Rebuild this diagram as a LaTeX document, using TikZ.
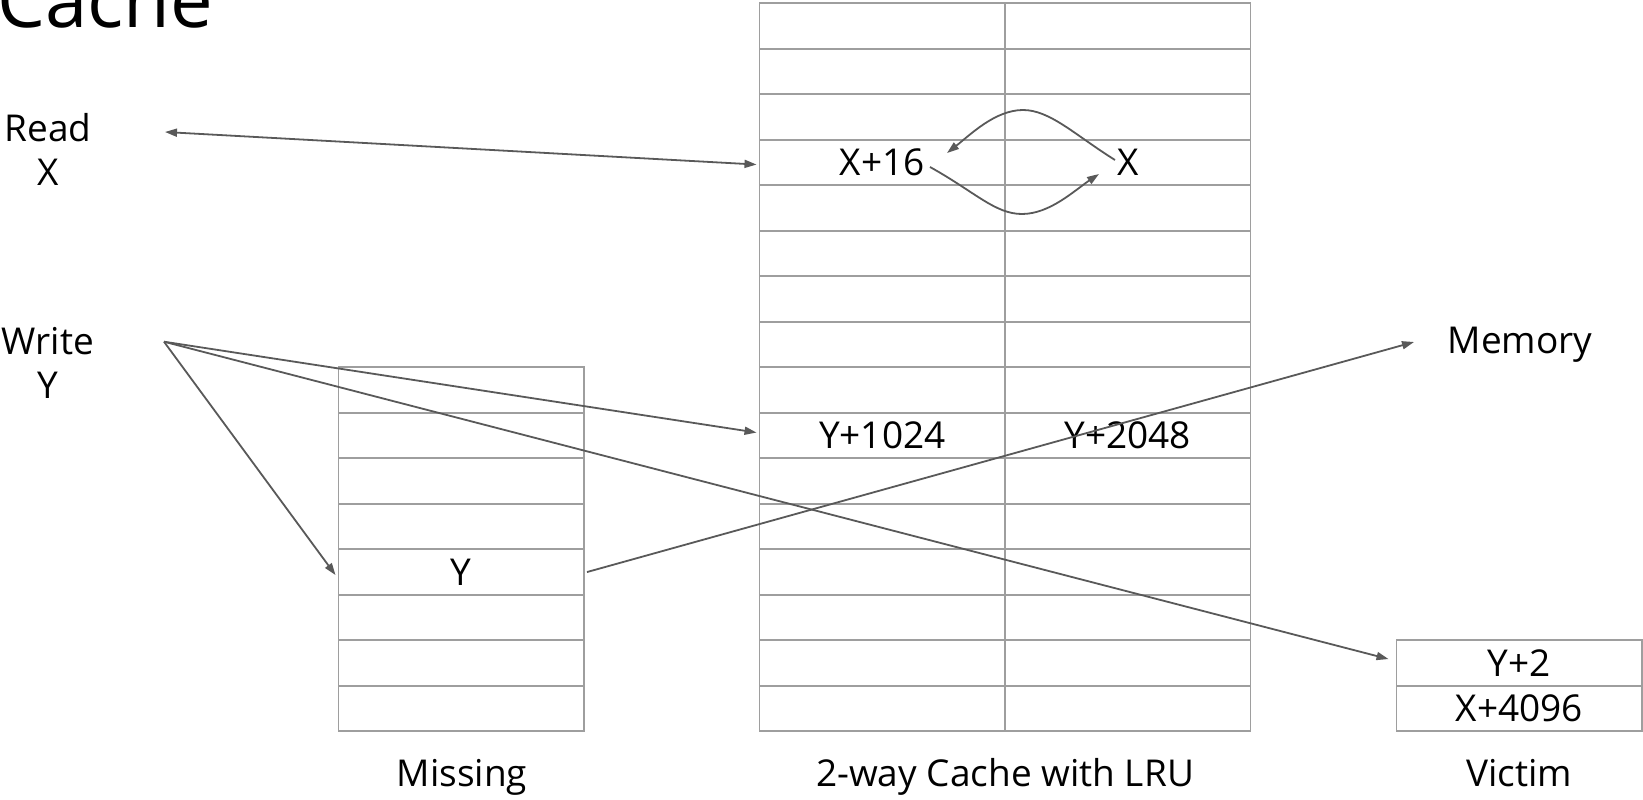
\documentclass[tikz,border=0pt]{standalone}
\usepackage{fontspec}
\setmainfont{Open Sans}
\usetikzlibrary{arrows.meta}
\definecolor{gridc}{RGB}{158,158,158}
\definecolor{linec}{RGB}{89,89,89}
\begin{document}
\begin{tikzpicture}[x=1pt,y=-1pt,
  cell/.style={draw=gridc, line width=1.8pt, minimum width=245.5pt, minimum height=45.5pt, inner sep=0pt, outer sep=0pt, anchor=north west},
  lbl/.style={font=\fontsize{37}{44}\selectfont, inner sep=0pt, text=black, align=center},
  conn/.style={draw=linec, line width=1.8pt, -{Triangle[length=12pt,width=8pt]}},
]
\useasboundingbox (0,0) rectangle (1643,800);

% title
\node[font=\fontsize{76}{84}\selectfont, inner sep=0pt, anchor=base west] (title) at (-3,28) {Cache};

% cache grid
\foreach \r in {0,...,15} {
  \foreach \c in {0,1} {
    \node[cell] (c-\r-\c) at ({759.5+245.5*\c},{3.3+45.5*\r}) {};
  }
}
% missing
\foreach \r in {0,...,7} {
  \node[cell] (m-\r) at (338.5,{3.3+45.5*(\r+8)}) {};
}
% victim
\foreach \r in {0,1} {
  \node[cell] (v-\r) at (1396.5,{3.3+45.5*(\r+14)}) {};
}

% cell texts
\node[lbl] (x16) at (c-3-0.center) {X+16};
\node[lbl] (xn) at (c-3-1.center) {X};
\node[lbl] (y1024) at (c-9-0.center) {Y+1024};
\node[lbl] (y2048) at (c-9-1.center) {Y+2048};
\node[lbl] (ym) at (m-4.center) {Y};
\node[lbl] (y2) at (v-0.center) {Y+2};
\node[lbl] (x4096) at (v-1.center) {X+4096};

% side labels (base anchor = last line)
\node[lbl, anchor=base] (read) at (48,185) {Read\\X};
\node[lbl, anchor=base] (write) at (48,398) {Write\\Y};
\node[lbl, anchor=base] (mem) at (1520,353) {Memory};

% bottom labels
\node[lbl, anchor=base] (lmiss) at (462,786.5) {Missing};
\node[lbl, anchor=base] (lcache) at (1005,786.5) {2-way Cache with LRU};
\node[lbl, anchor=base] (lvict) at (1519,786.5) {Victim};

% connector endpoints
\coordinate (rsrc) at (165,132);
\coordinate (wsrc) at (164,341.7);
\coordinate (memin) at (1414,342);
\coordinate (ua) at (1115,160);
\coordinate (ub) at (947,153);
\coordinate (la) at (930,167);
\coordinate (lb) at (1099,174);

% connectors
\draw[draw=linec, line width=1.8pt, {Triangle[length=12pt,width=8pt]}-{Triangle[length=12pt,width=8pt]}] (rsrc) -- ([xshift=-3pt,yshift=-2pt]c-3-0.west);
\draw[conn] (wsrc) -- ([xshift=-3pt,yshift=3pt]c-9-0.west);
\draw[conn] (wsrc) -- ([xshift=-3pt,yshift=-3pt]m-4.west);
\draw[conn] (wsrc) -- ([xshift=-8pt,yshift=4pt]v-0.west);
\draw[conn] ([xshift=3pt]m-4.east) -- (memin);

% LRU swap curves
\draw[conn] (ua) .. controls (1075,135) and (1050,110) .. (1023,110) .. controls (995,110) and (970,135) .. (ub);
\draw[conn] (la) .. controls (975,192) and (995,214) .. (1022,214) .. controls (1050,214) and (1075,190) .. (lb);
\end{tikzpicture}
\end{document}
